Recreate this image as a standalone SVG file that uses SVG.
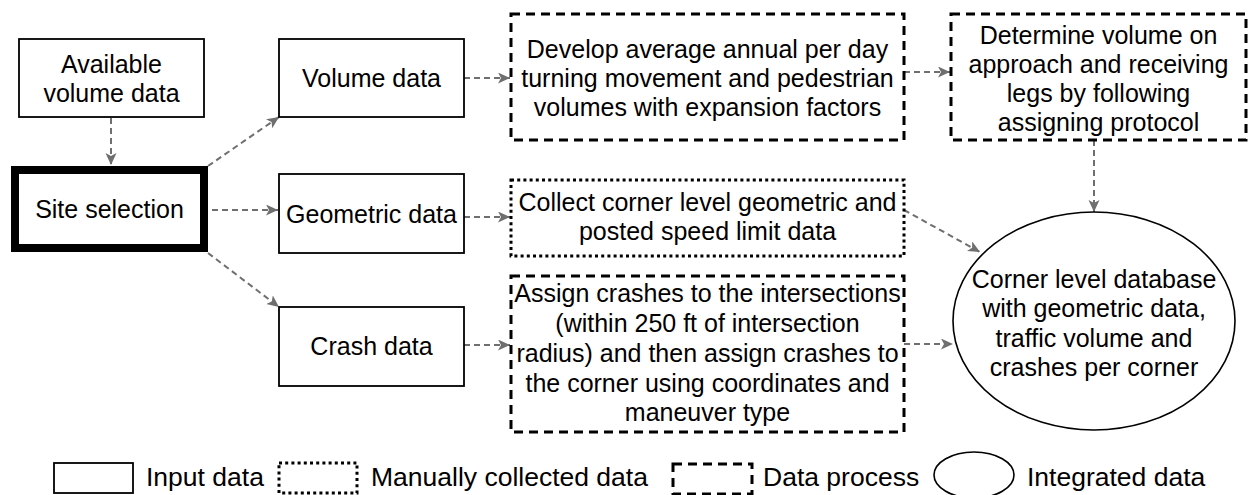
<svg xmlns="http://www.w3.org/2000/svg" width="1248" height="495" viewBox="0 0 1248 495">
  <defs>
    <style>
      .t { font-family: "Liberation Sans", Arial, sans-serif; font-size: 25px; fill: #000; text-anchor: middle; }
      .lg { font-family: "Liberation Sans", Arial, sans-serif; font-size: 26.5px; fill: #000; }
      .input { fill: #fff; stroke: #000; stroke-width: 1.8; }
      .site { fill: #fff; stroke: #000; stroke-width: 8; }
      .manual { fill: #fff; stroke: #000; stroke-width: 3; stroke-dasharray: 3 3.2; }
      .process { fill: #fff; stroke: #000; stroke-width: 3; stroke-dasharray: 9 6; }
      .integrated { fill: #fff; stroke: #000; stroke-width: 1.6; }
      .edge { fill: none; stroke: #6f6f6f; stroke-width: 2; stroke-dasharray: 6 4; }
    </style>
    <marker id="arrow" markerUnits="userSpaceOnUse" markerWidth="14" markerHeight="12" refX="12" refY="5.5" orient="auto">
      <path d="M0,0 L12,5.5 L0,11 L3,5.5 Z" fill="#6f6f6f"/>
    </marker>
  </defs>

  <!-- connectors -->
  <g id="connectors">
    <path class="edge" d="M111,118 L111,165" marker-end="url(#arrow)"/>
    <path class="edge" d="M208,166 L279,117" marker-end="url(#arrow)"/>
    <path class="edge" d="M212,210 L278,210" marker-end="url(#arrow)"/>
    <path class="edge" d="M208,253 L279,307" marker-end="url(#arrow)"/>
    <path class="edge" d="M464,78 L510,78" marker-end="url(#arrow)"/>
    <path class="edge" d="M464,217 L510,217" marker-end="url(#arrow)"/>
    <path class="edge" d="M464,345 L510,345" marker-end="url(#arrow)"/>
    <path class="edge" d="M904,72 L950,72" marker-end="url(#arrow)"/>
    <path class="edge" d="M1094,140 L1094,212" marker-end="url(#arrow)"/>
    <path class="edge" d="M904,210 L980,252" marker-end="url(#arrow)"/>
    <path class="edge" d="M904,344 L953,344" marker-end="url(#arrow)"/>
  </g>

  <!-- input nodes -->
  <g id="available-volume">
    <rect class="input" x="19" y="39" width="185" height="78"/>
    <text class="t" x="111.5" y="73">Available</text>
    <text class="t" x="111.5" y="102">volume data</text>
  </g>
  <g id="site-selection">
    <rect class="site" x="15" y="170" width="189" height="78"/>
    <text class="t" x="109.5" y="218">Site selection</text>
  </g>
  <g id="volume-data">
    <rect class="input" x="279" y="39" width="185" height="78"/>
    <text class="t" x="371.5" y="87">Volume data</text>
  </g>
  <g id="geometric-data">
    <rect class="input" x="279" y="174" width="185" height="79"/>
    <text class="t" x="371.5" y="223">Geometric data</text>
  </g>
  <g id="crash-data">
    <rect class="input" x="279" y="307" width="185" height="79"/>
    <text class="t" x="371.5" y="355">Crash data</text>
  </g>

  <!-- process nodes -->
  <g id="develop-volumes">
    <rect class="process" x="511" y="14" width="393" height="126"/>
    <text class="t" x="707.5" y="57.5">Develop average annual per day</text>
    <text class="t" x="707.5" y="86.5">turning movement and pedestrian</text>
    <text class="t" x="707.5" y="115.5">volumes with expansion factors</text>
  </g>
  <g id="determine-volume">
    <rect class="process" x="951" y="14" width="295" height="126"/>
    <text class="t" x="1098.5" y="43.5">Determine volume on</text>
    <text class="t" x="1098.5" y="72.5">approach and receiving</text>
    <text class="t" x="1098.5" y="101.5">legs by following</text>
    <text class="t" x="1098.5" y="130.5">assigning protocol</text>
  </g>
  <g id="collect-geometric">
    <rect class="manual" x="511" y="180" width="393" height="76"/>
    <text class="t" x="707.5" y="210.5">Collect corner level geometric and</text>
    <text class="t" x="707.5" y="240">posted speed limit data</text>
  </g>
  <g id="assign-crashes">
    <rect class="process" x="511" y="276" width="393" height="156"/>
    <text class="t" x="707.5" y="302">Assign crashes to the intersections</text>
    <text class="t" x="707.5" y="332">(within 250 ft of intersection</text>
    <text class="t" x="707.5" y="362">radius) and then assign crashes to</text>
    <text class="t" x="707.5" y="392">the corner using coordinates and</text>
    <text class="t" x="707.5" y="421">maneuver type</text>
  </g>

  <!-- integrated node -->
  <g id="corner-database">
    <ellipse class="integrated" cx="1094" cy="321" rx="141" ry="109"/>
    <text class="t" x="1094" y="287.5">Corner level database</text>
    <text class="t" x="1094" y="317">with geometric data,</text>
    <text class="t" x="1094" y="346.5">traffic volume and</text>
    <text class="t" x="1094" y="376">crashes per corner</text>
  </g>

  <!-- legend -->
  <g id="legend">
    <rect class="input" x="54" y="463" width="79" height="30"/>
    <text class="lg" x="146" y="486">Input data</text>
    <rect class="manual" x="279" y="463" width="78" height="30"/>
    <text class="lg" x="371" y="486">Manually collected data</text>
    <rect class="process" x="673" y="464" width="79" height="30"/>
    <text class="lg" x="763" y="486">Data process</text>
    <ellipse class="integrated" cx="974" cy="475" rx="40" ry="23"/>
    <text class="lg" x="1027" y="486">Integrated data</text>
  </g>
</svg>
